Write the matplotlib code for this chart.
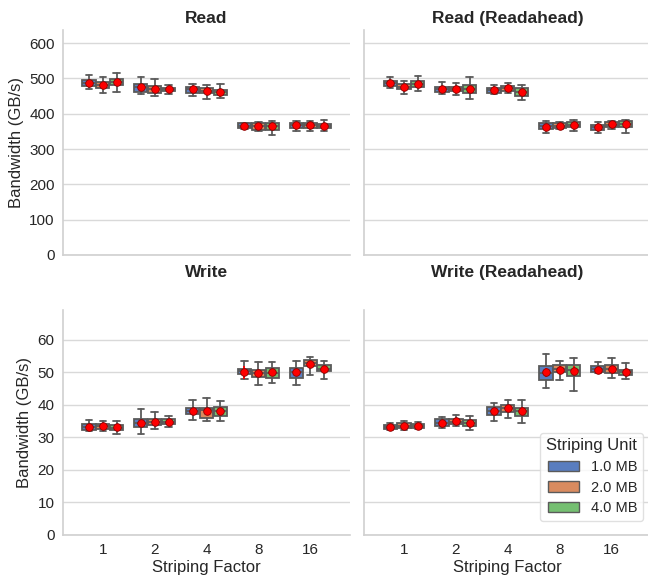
import colorsys
import numpy as np
import matplotlib
matplotlib.use("Agg")
import matplotlib.pyplot as plt
import matplotlib.colors as mcolors
from matplotlib.patches import Patch
import seaborn as sns

sns.set_theme(style="whitegrid")
plt.rcParams['font.family'] = ['Liberation Sans', 'DejaVu Sans']

factors = ["1", "2", "4", "8", "16"]
units = ["1.0 MB", "2.0 MB", "4.0 MB"]
panel_titles = ["Read", "Read (Readahead)", "Write", "Write (Readahead)"]

# ---- Read ----
read_whislo = [[471, 455, 451, 358, 351.5], [459, 449.5, 441, 350.5, 351], [461, 457, 445.7, 341, 350.5]]
read_q1 = [[479, 462, 460, 360, 359], [472.4, 460, 458, 354.4, 360], [481, 464, 453, 355, 359]]
read_med = [[487.6, 475, 468.6, 365, 367], [481, 469.5, 465, 364, 367], [489.5, 468.6, 461, 365, 366]]
read_q3 = [[495, 483.8, 476, 373, 373], [488.6, 479, 474, 372.4, 373], [498, 473, 467.6, 375, 372]]
read_whishi = [[508.6, 504.8, 484, 375, 379], [504.8, 497, 481, 377, 379], [516, 480, 484, 379, 381]]
read_mean = [[487.6, 475.2, 468.6, 364.8, 366.7], [481, 469.5, 464.8, 363.9, 366.7], [489.5, 468.6, 461.9, 364.8, 365.8]]
read_err = [[4, 6, 4, 3, 4], [5, 5, 4, 4, 4], [6, 3, 4, 5, 4]]

# ---- Read (Readahead) ----
readra_whislo = [[473, 455, 456, 346.7, 346], [455, 453, 458, 357, 357], [463, 442, 438, 352, 345]]
readra_q1 = [[478, 462, 460, 356, 353.4], [468.6, 464, 464, 359, 361], [475, 459, 451.4, 361, 361]]
readra_med = [[486.7, 470, 467.6, 364, 361], [476, 470, 472, 366, 369], [485, 470, 461, 369, 370]]
readra_q3 = [[494, 476, 474, 373, 368.6], [483, 476, 478, 372.4, 376], [494, 480, 472, 376, 378]]
readra_whishi = [[503, 490, 482, 380, 376], [493, 486, 486, 376, 379], [507, 505, 480, 382, 383]]
readra_mean = [[486.7, 470.5, 467.6, 362.9, 361], [476.2, 470.5, 472.4, 365.8, 369.6], [484.8, 469.5, 461, 368.6, 369.6]]
readra_err = [[4, 4, 3, 5, 4], [5, 4, 4, 3, 3], [5, 7, 5, 4, 5]]

# ---- Write ----
write_whislo = [[31.9, 31.2, 35.3, 48.1, 46.0], [31.9, 32.5, 35.2, 46.2, 49.2], [31.1, 33.3, 35.2, 46.9, 48.0]]
write_q1 = [[32.4, 33.1, 37.1, 49.4, 48.2], [32.7, 33.8, 36.0, 48.7, 51.9], [32.2, 34.2, 36.7, 48.2, 50.3]]
write_med = [[33.3, 34.5, 38.1, 50.3, 50.0], [33.5, 34.7, 38.3, 49.7, 52.8], [33.0, 34.9, 38.0, 49.8, 51.2]]
write_q3 = [[34.0, 35.6, 39.1, 51.2, 51.5], [34.2, 35.6, 39.2, 50.8, 53.7], [33.9, 35.6, 39.4, 51.4, 52.2]]
write_whishi = [[35.3, 38.9, 41.4, 53.5, 53.4], [35.1, 37.8, 42.1, 53.3, 54.8], [35.1, 36.6, 41.1, 53.3, 53.6]]
write_mean = [[33.3, 34.5, 38.0, 50.0, 50.0], [33.5, 34.7, 38.0, 49.7, 52.6], [33.1, 34.8, 38.0, 50.0, 51.2]]
write_err = [[0.5, 0.8, 1.0, 1.9, 1.2], [0.4, 0.6, 1.0, 1.0, 0.6], [0.5, 0.4, 0.8, 1.0, 0.6]]

# ---- Write (Readahead) ----
writera_whislo = [[32.4, 32.9, 35.2, 45.2, 49.7], [32.4, 33.6, 36.1, 47.7, 48.2], [32.5, 32.2, 34.4, 44.4, 47.9]]
writera_q1 = [[32.6, 33.6, 37.0, 47.8, 50.2], [32.9, 34.0, 37.8, 50.0, 49.7], [32.8, 33.4, 36.7, 49.0, 49.2]]
writera_med = [[33.2, 34.6, 38.1, 49.8, 51.0], [33.6, 34.9, 39.0, 51.0, 51.0], [33.5, 34.5, 38.2, 50.6, 50.0]]
writera_q3 = [[33.8, 35.8, 39.4, 52.0, 52.0], [34.4, 35.6, 40.1, 52.3, 52.4], [34.2, 35.5, 39.2, 52.3, 50.9]]
writera_whishi = [[34.3, 36.3, 40.7, 55.7, 53.2], [35.1, 36.8, 41.6, 53.6, 54.5], [34.7, 36.5, 41.6, 54.5, 52.8]]
writera_mean = [[33.2, 34.6, 38.0, 50.0, 50.7], [33.6, 35.1, 39.0, 50.9, 51.0], [33.4, 34.5, 38.2, 50.5, 50.1]]
writera_err = [[0.4, 0.7, 1.0, 1.5, 0.6], [0.5, 0.6, 0.9, 1.0, 1.0], [0.4, 0.8, 1.2, 1.4, 0.7]]

panels = [
    (read_whislo, read_q1, read_med, read_q3, read_whishi, read_mean, read_err),
    (readra_whislo, readra_q1, readra_med, readra_q3, readra_whishi, readra_mean, readra_err),
    (write_whislo, write_q1, write_med, write_q3, write_whishi, write_mean, write_err),
    (writera_whislo, writera_q1, writera_med, writera_q3, writera_whishi, writera_mean, writera_err),
]


def desat(c, s=0.75):
    r, g, b = mcolors.to_rgb(c)
    h, l, sat = colorsys.rgb_to_hls(r, g, b)
    return colorsys.hls_to_rgb(h, l, sat * s)


palette = [desat(c) for c in sns.color_palette("muted", 3)]
edge = "#5a5a5a"
txt = '#262626'

W, H = 648, 577
fig = plt.figure(figsize=(W / 100, H / 100), dpi=100)


def add_ax(x0, x1, y0, y1):
    return fig.add_axes([x0 / W, 1 - y1 / H, (x1 - x0) / W, (y1 - y0) / H])


axes = [add_ax(63, 350, 30, 255), add_ax(364, 651.7, 30, 255),
        add_ax(63, 350, 310, 535), add_ax(364, 651.7, 310, 535)]
title_y = [23, 23, 277, 277]
title_x = [206.5, 507.5, 206.5, 507.5]

offs = 0.267
bw = 0.255
for k, ax in enumerate(axes):
    whislo, q1, med, q3, whishi, mean, err = panels[k]
    for j in range(3):
        stats = []
        pos = []
        for i in range(len(factors)):
            stats.append(dict(whislo=whislo[j][i], q1=q1[j][i], med=med[j][i],
                              q3=q3[j][i], whishi=whishi[j][i], fliers=[]))
            pos.append(i + (j - 1) * offs)
        ax.bxp(stats, positions=pos, widths=bw, patch_artist=True, showfliers=False,
               boxprops=dict(facecolor=palette[j], edgecolor=edge, linewidth=1.3),
               medianprops=dict(color=edge, linewidth=1.3),
               whiskerprops=dict(color=edge, linewidth=1.3),
               capprops=dict(color=edge, linewidth=1.3), manage_ticks=False, zorder=2)
        ax.errorbar(pos, mean[j], yerr=err[j], fmt='o', color='red', ecolor='red',
                    elinewidth=1.3, ms=5.5, mec='#8b0000', mew=0.6, zorder=4)
    ax.set_xlim(-0.77, 4.77)
    ax.grid(axis='x', visible=False)
    ax.grid(axis='y', color='#d9d9d9', linewidth=1.0)
    ax.set_axisbelow(True)
    for s in ['top', 'right']:
        ax.spines[s].set_visible(False)
    for s in ['left', 'bottom']:
        ax.spines[s].set_color('#d0d0d0')
        ax.spines[s].set_linewidth(1.2)
    fig.text(title_x[k] / W, 1 - title_y[k] / H, panel_titles[k], fontsize=12.5,
             fontweight='bold', color=txt, ha='center', va='baseline')
    ax.tick_params(axis='both', length=0, labelsize=11, colors=txt, pad=6)
    ax.set_xticks(range(len(factors)))
    if k < 2:
        ax.set_ylim(0, 637)
        ax.set_yticks([0, 100, 200, 300, 400, 500, 600])
        ax.set_xticklabels([])
    else:
        ax.set_ylim(0, 69.2)
        ax.set_yticks([0, 10, 20, 30, 40, 50, 60])
        ax.set_xticklabels(factors)
        ax.set_xlabel("Striping Factor", fontsize=12, color=txt, labelpad=2)
    if k % 2 == 0:
        ax.set_ylabel("Bandwidth (GB/s)", fontsize=12, color=txt)
    else:
        ax.set_yticklabels([])

handles = [Patch(facecolor=palette[j], edgecolor=edge, linewidth=1.0, label=units[j]) for j in range(3)]
leg = axes[3].legend(handles=handles, title="Striping Unit", loc='lower right',
                     bbox_to_anchor=(643 / W, 1 - 521 / H), bbox_transform=fig.transFigure,
                     borderaxespad=0, fontsize=10.5, title_fontsize=12, frameon=True,
                     handlelength=2.1, handleheight=0.75, handletextpad=0.8,
                     labelspacing=0.45, borderpad=0.4)
leg.get_frame().set_edgecolor('#d9d9d9')
leg.get_frame().set_facecolor('white')
for t in leg.get_texts():
    t.set_ha('right')
leg._legend_box.align = "right"

fig.savefig("out.png", dpi=100)
